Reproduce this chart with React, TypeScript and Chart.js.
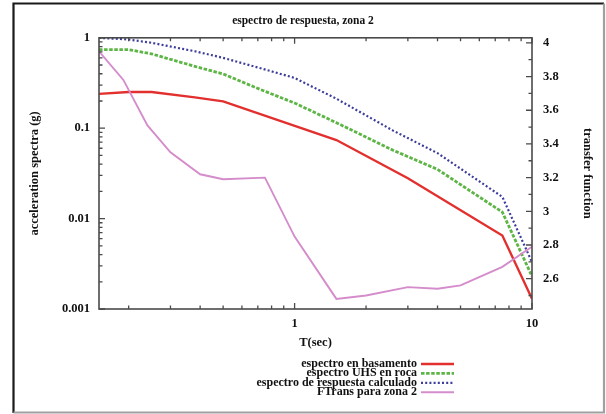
import React, { useEffect, useRef } from 'react';
import { Chart, registerables } from 'chart.js';

Chart.register(...registerables);

const FONT = '"Liberation Serif", "Times New Roman", serif';

const chartTitle = 'espectro de respuesta, zona 2';
const xAxisTitle = 'T(sec)';
const yAxisTitle = 'acceleration spectra (g)';
const y2AxisTitle = 'transfer function';

const seriesNames = [
  'espectro en basamento',
  'espectro UHS en roca',
  'espectro de respuesta calculado',
  'FTrans para zona 2',
];

// espectro en basamento (left axis, g)
const basamentoT = [0.15, 0.2, 0.25, 0.38, 0.5, 1.5, 3.0, 7.5, 10];
const basamentoSa = [0.24, 0.251, 0.251, 0.219, 0.198, 0.074, 0.028, 0.0065, 0.0013];

// espectro UHS en roca (left axis, g)
const uhsT = [0.15, 0.2, 0.25, 0.38, 0.5, 0.72, 1.0, 1.5, 2.6, 4.0, 7.5, 10];
const uhsSa = [0.74, 0.74, 0.664, 0.483, 0.398, 0.267, 0.19, 0.115, 0.057, 0.035, 0.0118, 0.0023];

// espectro de respuesta calculado (left axis, g)
const calcT = [0.15, 0.2, 0.25, 0.38, 0.5, 0.72, 1.0, 1.5, 2.6, 4.0, 7.5, 10];
const calcSa = [1.0, 0.957, 0.88, 0.71, 0.6, 0.46, 0.36, 0.212, 0.094, 0.053, 0.0174, 0.0033];

// FTrans para zona 2 (right axis)
const ftransT = [0.15, 0.19, 0.24, 0.3, 0.4, 0.5, 0.75, 1.0, 1.5, 2.0, 3.0, 4.0, 5.0, 7.5, 10];
const ftransV = [3.95, 3.78, 3.51, 3.35, 3.22, 3.19, 3.2, 2.85, 2.48, 2.5, 2.55, 2.54, 2.56, 2.67, 2.79];

// axes
const xMin = 0.15;
const xMax = 10;
const xMajorTicks = [1, 10];
const xMinorTicks = [0.2, 0.3, 0.4, 0.5, 0.6, 0.7, 0.8, 0.9, 2, 3, 4, 5, 6, 7, 8, 9];
const yMin = 0.001;
const yMax = 1;
const yMajorTicks = [0.001, 0.01, 0.1, 1];
const yMinorTicks = [
  0.002, 0.003, 0.004, 0.005, 0.006, 0.007, 0.008, 0.009,
  0.02, 0.03, 0.04, 0.05, 0.06, 0.07, 0.08, 0.09,
  0.2, 0.3, 0.4, 0.5, 0.6, 0.7, 0.8, 0.9,
];
const y2Min = 2.42;
const y2Max = 4.03;
const y2MajorTicks = [2.6, 2.8, 3.0, 3.2, 3.4, 3.6, 3.8, 4.0];
const y2MinorTicks = [2.5, 2.7, 2.9, 3.1, 3.3, 3.5, 3.7, 3.9];

const colors = ['#e2302e', '#5db545', '#3d3d9c', '#d58ccb'];

const toPoints = (xs: number[], ys: number[]) => xs.map((x, i) => ({ x, y: ys[i] }));

const decorPlugin = {
  id: 'decor',
  beforeDraw(chart: any) {
    const ctx = chart.ctx;
    ctx.save();
    ctx.fillStyle = '#ffffff';
    ctx.fillRect(0, 0, chart.width, chart.height);
    ctx.lineWidth = 2.2;
    ctx.strokeStyle = '#1a1a1a';
    ctx.beginPath();
    ctx.moveTo(13.5, 413);
    ctx.lineTo(13.5, 3.5);
    ctx.lineTo(604, 3.5);
    ctx.stroke();
    ctx.strokeStyle = '#a0a0a0';
    ctx.beginPath();
    ctx.moveTo(604, 3.5);
    ctx.lineTo(604, 412.5);
    ctx.lineTo(13.5, 412.5);
    ctx.stroke();
    ctx.restore();
  },
  afterDatasetsDraw(chart: any) {
    const ctx = chart.ctx;
    const { left, right, top, bottom } = chart.chartArea;
    const sx = chart.scales.x;
    const sy = chart.scales.y;
    const sy2 = chart.scales.y2;
    ctx.save();
    ctx.strokeStyle = '#4a4a4a';
    ctx.lineWidth = 1.3;
    const major = 6;
    const minor = 3.5;
    ctx.beginPath();
    const xt = (v: number, len: number) => {
      const p = sx.getPixelForValue(v);
      ctx.moveTo(p, bottom);
      ctx.lineTo(p, bottom - len);
      ctx.moveTo(p, top);
      ctx.lineTo(p, top + len);
    };
    xMajorTicks.forEach((v) => xt(v, major));
    xMinorTicks.forEach((v) => xt(v, minor));
    const yt = (v: number, len: number) => {
      const p = sy.getPixelForValue(v);
      ctx.moveTo(left, p);
      ctx.lineTo(left + len, p);
    };
    yMajorTicks.forEach((v) => yt(v, major));
    yMinorTicks.forEach((v) => yt(v, minor));
    const y2t = (v: number, len: number) => {
      const p = sy2.getPixelForValue(v);
      ctx.moveTo(right, p);
      ctx.lineTo(right - len, p);
    };
    y2MajorTicks.forEach((v) => y2t(v, major));
    y2MinorTicks.forEach((v) => y2t(v, minor));
    ctx.stroke();
    ctx.lineWidth = 1.6;
    ctx.strokeRect(left, top, right - left, bottom - top);

    // legend (gnuplot style)
    const textRight = 417;
    const rowTop = 364;
    const rowGap = 9.4;
    ctx.font = `bold 12px ${FONT}`;
    ctx.textAlign = 'right';
    ctx.textBaseline = 'middle';
    chart.data.datasets.forEach((ds: any, i: number) => {
      const y = rowTop + i * rowGap;
      ctx.fillStyle = '#111';
      ctx.fillText(ds.label, textRight, y);
      ctx.beginPath();
      ctx.strokeStyle = ds.borderColor;
      ctx.lineWidth = ds.borderWidth;
      ctx.setLineDash(ds.borderDash || []);
      ctx.moveTo(textRight + 4, y);
      ctx.lineTo(textRight + 37, y);
      ctx.stroke();
      ctx.setLineDash([]);
    });
    ctx.restore();
  },
};

export default function App() {
  const canvasRef = useRef<HTMLCanvasElement | null>(null);

  useEffect(() => {
    if (!canvasRef.current) return;
    const tickFont = { family: FONT, size: 12.5, weight: 'bold' as const };
    const chart = new Chart(canvasRef.current, {
      type: 'line',
      data: {
        datasets: [
          {
            label: seriesNames[0],
            data: toPoints(basamentoT, basamentoSa),
            borderColor: colors[0],
            borderWidth: 2.4,
            yAxisID: 'y',
            order: 4,
          },
          {
            label: seriesNames[1],
            data: toPoints(uhsT, uhsSa),
            borderColor: colors[1],
            borderWidth: 2.8,
            borderDash: [3.5, 1.6],
            yAxisID: 'y',
            order: 3,
          },
          {
            label: seriesNames[2],
            data: toPoints(calcT, calcSa),
            borderColor: colors[2],
            borderWidth: 2.2,
            borderDash: [2, 2.2],
            yAxisID: 'y',
            order: 2,
          },
          {
            label: seriesNames[3],
            data: toPoints(ftransT, ftransV),
            borderColor: colors[3],
            borderWidth: 1.9,
            yAxisID: 'y2',
            order: 1,
          },
        ],
      },
      options: {
        animation: false,
        responsive: false,
        devicePixelRatio: 1,
        parsing: false as any,
        elements: {
          point: { radius: 0, hoverRadius: 0 },
          line: { tension: 0, fill: false },
        },
        layout: { padding: { left: 0, right: 0, top: 0, bottom: 0 } },
        plugins: {
          legend: { display: false },
          tooltip: { enabled: false },
          title: {
            display: true,
            text: chartTitle,
            color: '#111',
            font: { family: FONT, size: 11.5, weight: 'bold' },
            padding: { top: 14, bottom: 10 },
          },
        },
        scales: {
          x: {
            type: 'logarithmic',
            position: 'bottom',
            min: xMin,
            max: xMax,
            grid: { display: false, drawTicks: false },
            border: { display: false },
            afterBuildTicks: (s: any) => {
              s.ticks = xMajorTicks.map((v) => ({ value: v }));
            },
            afterFit: (s: any) => {
              s.height = 105;
            },
            ticks: {
              autoSkip: false,
              maxRotation: 0,
              padding: 7,
              color: '#111',
              font: tickFont,
              callback: (v: any) => String(+v),
            },
            title: {
              display: true,
              text: xAxisTitle,
              color: '#111',
              font: { family: FONT, size: 12.5, weight: 'bold' },
              padding: { top: 0, bottom: 63.5 },
            },
          },
          y: {
            type: 'logarithmic',
            position: 'left',
            min: yMin,
            max: yMax,
            grid: { display: false, drawTicks: false },
            border: { display: false },
            afterBuildTicks: (s: any) => {
              s.ticks = yMajorTicks.map((v) => ({ value: v }));
            },
            afterFit: (s: any) => {
              s.width = 99;
            },
            ticks: {
              autoSkip: false,
              padding: 9,
              color: '#111',
              font: tickFont,
              callback: (v: any) => String(+v),
            },
            title: {
              display: true,
              text: yAxisTitle,
              color: '#111',
              font: { family: FONT, size: 12.5, weight: 'bold' },
              padding: { top: 27.5, bottom: 0 },
            },
          },
          y2: {
            type: 'linear',
            position: 'right',
            min: y2Min,
            max: y2Max,
            grid: { display: false, drawTicks: false },
            border: { display: false },
            afterBuildTicks: (s: any) => {
              s.ticks = y2MajorTicks.map((v) => ({ value: v }));
            },
            afterFit: (s: any) => {
              s.width = 74;
            },
            ticks: {
              autoSkip: false,
              padding: 11,
              color: '#111',
              font: tickFont,
              callback: (v: any) => String(+(+v).toFixed(1)),
            },
            title: {
              display: true,
              text: y2AxisTitle,
              color: '#111',
              font: { family: FONT, size: 12.5, weight: 'bold' },
              padding: { top: 11.5, bottom: 0 },
            },
          },
        },
      },
      plugins: [decorPlugin],
    });
    return () => chart.destroy();
  }, []);

  return (
    <div style={{ position: 'fixed', left: 0, top: 0, width: 606, height: 414 }}>
      <canvas ref={canvasRef} width={606} height={414} style={{ display: 'block', width: 606, height: 414 }} />
    </div>
  );
}
